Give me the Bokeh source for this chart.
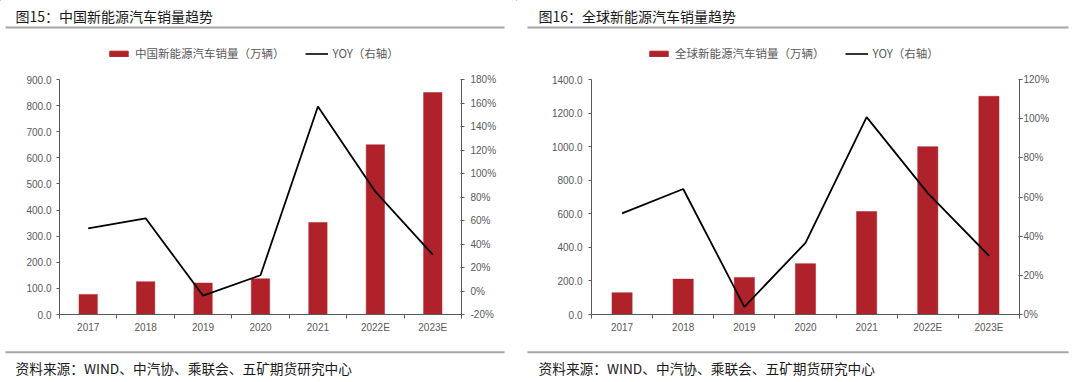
from bokeh.plotting import figure
from bokeh.models import (Range1d, LinearAxis, FixedTicker, PrintfTickFormatter,
                          Legend, LegendItem)
from bokeh.layouts import row, column
from bokeh.core.properties import value
from bokeh.embed import file_html
from bokeh.resources import INLINE

# ---------------- data ----------------
years = ["2017", "2018", "2019", "2020", "2021", "2022E", "2023E"]

china_sales = [77.0, 125.6, 120.6, 136.7, 352.1, 650.0, 850.0]      # 万辆
china_yoy = [53.3, 61.9, -4.0, 13.4, 157.0, 84.5, 31.0]              # %

global_sales = [130.0, 211.0, 221.0, 303.0, 613.0, 1000.0, 1300.0]  # 万辆
global_yoy = [51.6, 64.1, 3.9, 36.6, 100.8, 62.0, 30.0]              # %

china_left_ticks = [0, 100, 200, 300, 400, 500, 600, 700, 800, 900]
china_right_ticks = [-20, 0, 20, 40, 60, 80, 100, 120, 140, 160, 180]
global_left_ticks = [0, 200, 400, 600, 800, 1000, 1200, 1400]
global_right_ticks = [0, 20, 40, 60, 80, 100, 120]

titles = ["图15：中国新能源汽车销量趋势", "图16：全球新能源汽车销量趋势"]
bar_labels = ["中国新能源汽车销量（万辆）", "全球新能源汽车销量（万辆）"]
line_label = "YOY（右轴）"
source_text = "资料来源：WIND、中汽协、乘联会、五矿期货研究中心"

# ---------------- style ----------------
CJK = "Noto Sans CJK SC"
NUM = "Liberation Sans"
BAR = "#B0222A"
AXIS = "#595959"
LABEL = "#595959"
RULE = "#A6A6A6"

HEAD_H = 70      # page y 0..70
CHART_H = 270    # page y 70..340, frame 79..314
FOOT_H = 38      # page y 340..378


def plain_fig(w, h):
    f = figure(width=w, height=h, x_range=Range1d(0, w), y_range=Range1d(h, 0),
               output_backend="svg", toolbar_location=None,
               x_axis_type=None, y_axis_type=None, frame_align=False,
               min_border=0, min_border_left=0, min_border_right=0,
               min_border_top=0, min_border_bottom=0)
    f.outline_line_color = None
    f.background_fill_color = "white"
    f.border_fill_color = "white"
    f.xgrid.visible = False
    f.ygrid.visible = False
    return f


def header(w, title, text_x, rule_x0, rule_x1, bar_label, legend_x):
    f = plain_fig(w, HEAD_H)
    f.text(x=[text_x], y=[15], text=[title], text_font=value(CJK),
           text_font_size="14px", text_baseline="middle", text_align="left",
           text_color="#1a1a1a")
    f.segment(x0=[rule_x0], y0=[27], x1=[rule_x1], y1=[27],
              line_color=RULE, line_width=2)
    # legend keys styled like the chart's bar and line series
    # (one point each, placed outside the visible range)
    kb = f.vbar(x=[-1000], top=[-1000], bottom=[-1001], width=1,
                fill_color=BAR, line_color=BAR)
    kl = f.line(x=[-1000, -999], y=[-1000, -1000], line_color="black",
                line_width=1.6)
    legend = Legend(items=[LegendItem(label=bar_label, renderers=[kb]),
                           LegendItem(label=line_label, renderers=[kl])],
                    location=(legend_x, 9), orientation="horizontal")
    legend.label_text_font = CJK
    legend.label_text_font_size = "11.5px"
    legend.label_text_color = LABEL
    legend.background_fill_alpha = 0
    legend.border_line_color = None
    legend.padding = 0
    legend.margin = 0
    legend.spacing = 20
    legend.glyph_width = 23
    legend.glyph_height = 7
    legend.label_standoff = 5
    legend.label_height = 12
    f.add_layout(legend, "center")
    return f


def footer(w, text_x, rule_x0, rule_x1):
    f = plain_fig(w, FOOT_H)
    f.segment(x0=[rule_x0], y0=[11.7], x1=[rule_x1], y1=[11.7],
              line_color=RULE, line_width=2)
    f.text(x=[text_x], y=[27], text=[source_text], text_font=value(CJK),
           text_font_size="13.7px", text_baseline="middle", text_align="left",
           text_color="#1a1a1a")
    return f


def chart(w, b_left, b_right, sales, yoy, left_ticks, right_ticks,
          bar_width, left_standoff, right_standoff):
    n = len(years)
    centers = [i + 0.5 for i in range(n)]
    p = figure(width=w, height=CHART_H,
               x_range=Range1d(0, n),
               y_range=Range1d(left_ticks[0], left_ticks[-1]),
               output_backend="svg", toolbar_location=None,
               x_axis_type=None, y_axis_type=None, frame_align=False,
               min_border_left=b_left, min_border_right=b_right,
               min_border_top=9, min_border_bottom=26)
    p.outline_line_color = None
    p.background_fill_color = "white"
    p.border_fill_color = "white"
    p.extra_y_ranges = {"yoy": Range1d(right_ticks[0], right_ticks[-1])}

    p.vbar(x=centers, top=sales, width=bar_width, bottom=0,
           fill_color=BAR, line_color=BAR, line_width=0.5)
    p.line(x=centers, y=yoy, y_range_name="yoy",
           line_color="black", line_width=1.8)

    # x axis: labels at centres, tick marks at category boundaries
    xa = LinearAxis(ticker=FixedTicker(ticks=centers,
                                       minor_ticks=list(range(n + 1))))
    xa.major_label_overrides = {c: y for c, y in zip(centers, years)}
    xa.major_tick_line_color = None
    xa.major_tick_out = 4
    xa.major_tick_in = 0
    xa.minor_tick_line_color = AXIS
    xa.minor_tick_out = 4
    xa.minor_tick_in = 0
    xa.major_label_standoff = 3
    xa.axis_line_color = AXIS
    xa.major_label_text_font = NUM
    xa.major_label_text_font_size = "10px"
    xa.major_label_text_color = LABEL
    p.add_layout(xa, "below")

    ya = LinearAxis(ticker=FixedTicker(ticks=left_ticks),
                    formatter=PrintfTickFormatter(format="%.1f"))
    ya.axis_line_color = AXIS
    ya.major_tick_line_color = AXIS
    ya.major_tick_out = 3
    ya.major_tick_in = 0
    ya.minor_tick_line_color = None
    ya.major_label_standoff = left_standoff
    ya.major_label_text_font = NUM
    ya.major_label_text_font_size = "10px"
    ya.major_label_text_color = LABEL
    p.add_layout(ya, "left")

    yr = LinearAxis(y_range_name="yoy", ticker=FixedTicker(ticks=right_ticks),
                    formatter=PrintfTickFormatter(format="%d%%"))
    yr.axis_line_color = AXIS
    yr.major_tick_line_color = AXIS
    yr.major_tick_out = 3
    yr.major_tick_in = 1
    yr.minor_tick_line_color = None
    yr.major_label_standoff = right_standoff
    yr.major_label_text_font = NUM
    yr.major_label_text_font_size = "10px"
    yr.major_label_text_color = LABEL
    p.add_layout(yr, "right")
    return p


# left panel: page x 0..516, frame 59..461
W1 = 516
h1 = header(W1, titles[0], 15, 5, 504, bar_labels[0], 107)
c1 = chart(W1, 59, 55, china_sales, china_yoy, china_left_ticks,
           china_right_ticks, 0.32, 5, 6)
f1 = footer(W1, 15, 5, 504)

# right panel: page x 516..1076, frame 591..1019
X2 = 516
W2 = 560
h2 = header(W2, titles[1], 538 - X2, 527 - X2, 1068 - X2, bar_labels[1], 647 - X2)
c2 = chart(W2, 75, 57, global_sales, global_yoy, global_left_ticks,
           global_right_ticks, 0.33, 6, 1)
f2 = footer(W2, 538 - X2, 527 - X2, 1068 - X2)

layout = row(column(h1, c1, f1, spacing=0), column(h2, c2, f2, spacing=0),
             spacing=0)

open("out.html", "w").write(file_html(layout, INLINE))
